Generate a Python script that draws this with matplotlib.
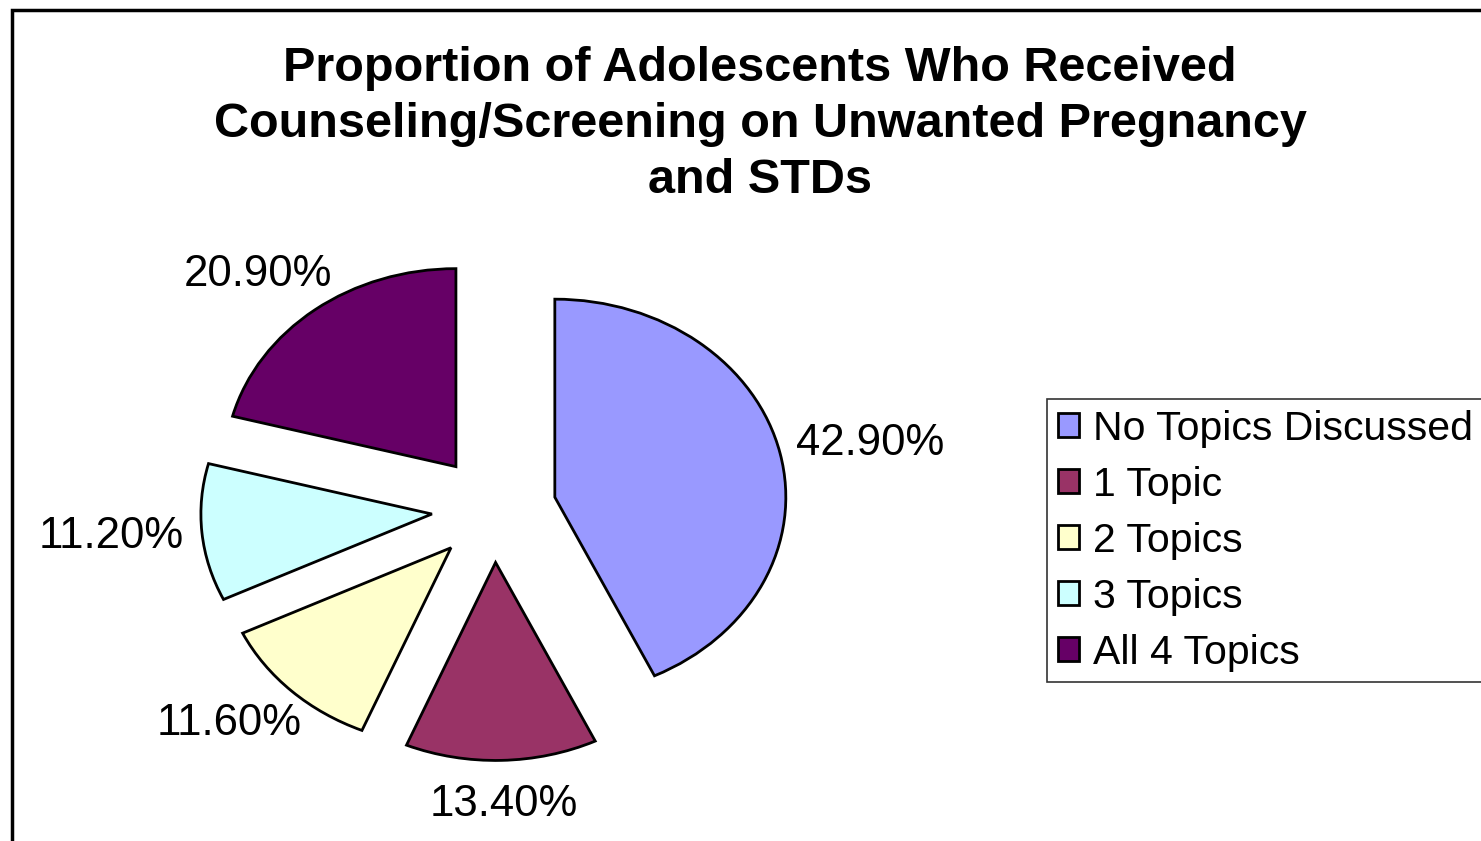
import matplotlib.pyplot as plt
from matplotlib.patches import Rectangle
import numpy as np

plt.rcParams['font.family'] = ['Liberation Sans', 'DejaVu Sans']

title = 'Proportion of Adolescents Who Received\nCounseling/Screening on Unwanted Pregnancy\nand STDs'
categories = ['No Topics Discussed', '1 Topic', '2 Topics', '3 Topics', 'All 4 Topics']
values = [42.9, 13.4, 11.6, 11.2, 20.9]
colors = ['#9999FF', '#993366', '#FFFFCC', '#CCFFFF', '#660066']

W, H = 1481, 841
fig = plt.figure(figsize=(W / 100, H / 100), dpi=100)

# outer chart border (right and bottom run off the picture)
fig.patches.append(Rectangle((12 / W, -0.05), 1.1, (H - 10) / H + 0.05,
                             transform=fig.transFigure, fill=False,
                             edgecolor='black', linewidth=2.5))

# pie axes: stretched, so the pie comes out as an ellipse like the original
k = 1.5
cx, cy = 494, H - 509
rx, ry = 231, 198
ax = fig.add_axes([(cx - rx * k) / W, (cy - ry * k) / H, 2 * rx * k / W, 2 * ry * k / H])
wedges, texts = ax.pie(values, colors=colors, startangle=90, counterclock=False,
                       explode=[0.27] * len(values), labels=[f'{v:.2f}%' for v in values],
                       wedgeprops=dict(edgecolor='black', linewidth=2),
                       textprops=dict(fontsize=31.5))
ax.set_aspect('auto')
ax.set_xlim(-k, k)
ax.set_ylim(-k, k)
ax.axis('off')

# "outside end" labels: the label box sits just beyond the arc of its slice
fig.canvas.draw()
r = fig.canvas.get_renderer()
for w, t in zip(wedges, texts):
    th = np.deg2rad((w.theta1 + w.theta2) / 2)
    x0, y0 = w.center
    t.set_ha('center')
    t.set_va('center')
    ax_pt = ax.transData.transform((x0 + 1.08 * np.cos(th), y0 + 1.12 * np.sin(th)))
    bb = t.get_window_extent(r)
    px = ax_pt[0] + np.cos(th) * bb.width / 2
    py = ax_pt[1] + np.sin(th) * bb.height / 2
    t.set_position(ax.transData.inverted().transform((px, py)))

fig.text(760 / W, 1 - 46 / H, title, ha='center', va='top', fontsize=35,
         fontweight='bold', linespacing=1.31)

leg = fig.legend(wedges, categories, loc='upper left', bbox_to_anchor=(1047 / W, 1 - 399 / H),
                 fontsize=29.5, frameon=True, fancybox=False, edgecolor='black',
                 handlelength=0.52, handleheight=0.52, handletextpad=0.35,
                 labelspacing=0.44, borderpad=0.26, borderaxespad=0)
leg.get_frame().set_linewidth(1.2)

fig.savefig('out.png', dpi=100)
